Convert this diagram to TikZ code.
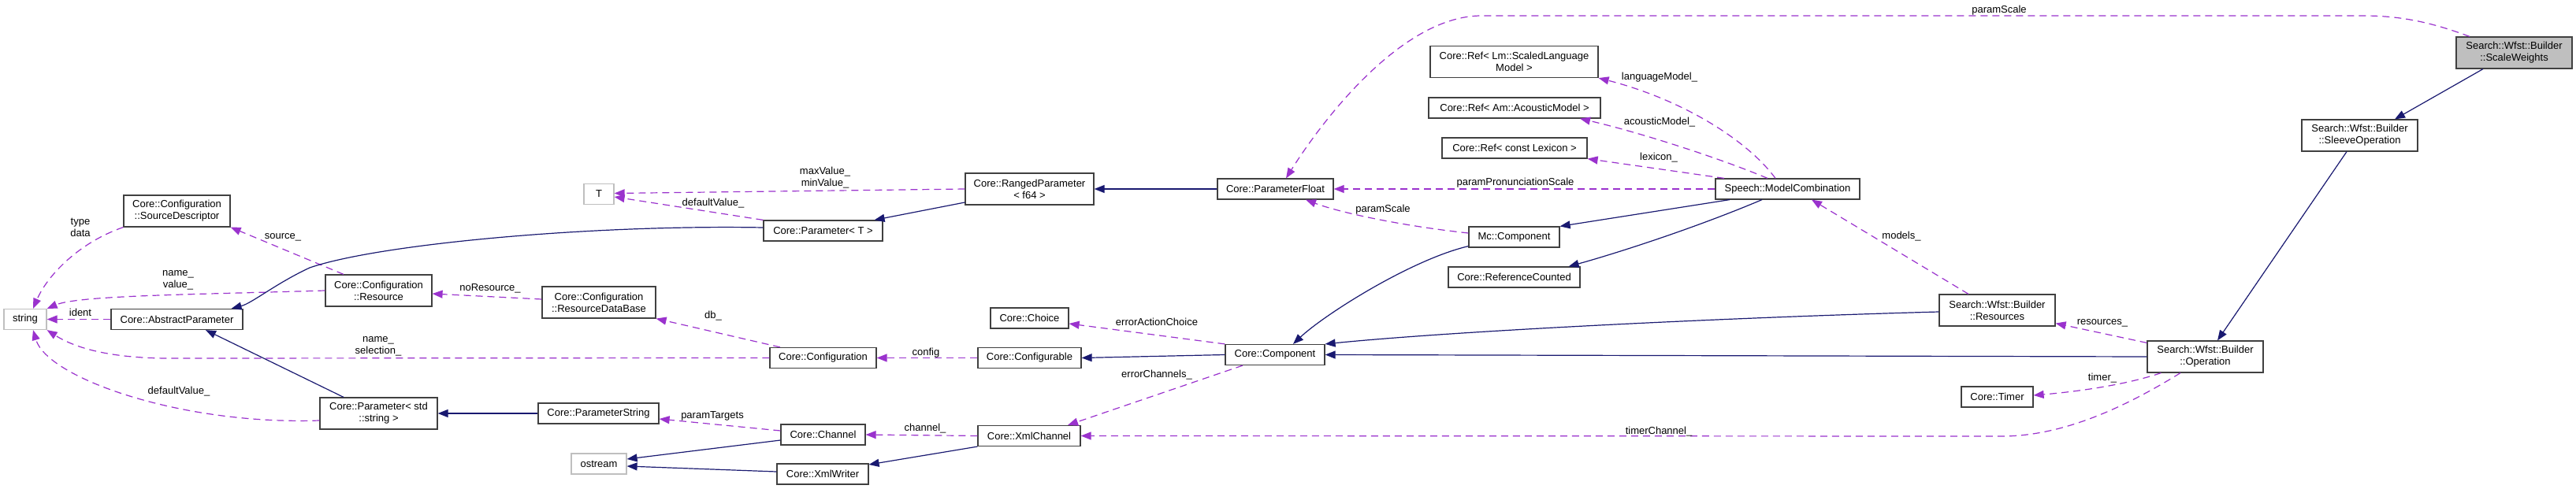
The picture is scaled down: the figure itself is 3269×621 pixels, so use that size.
\documentclass[tikz,border=0pt]{standalone}
\usepackage{fontspec}
\newfontfamily\doxfont{Liberation Sans}
\usetikzlibrary{arrows.meta}
\definecolor{inhblue}{HTML}{191970}
\definecolor{usepurple}{HTML}{9A32CD}
\definecolor{boxgray}{HTML}{BFBFBF}

\begin{document}
\begin{tikzpicture}[x=1pt,y=-1pt,
	cls/.style={draw=black!75,fill=white,line width=1.2pt,font=\doxfont\fontsize{13}{15}\selectfont,
		align=center,inner xsep=1pt,inner ysep=1pt,minimum height=26pt},
	clstwo/.style={cls,minimum height=40pt},
	ext/.style={cls,draw=boxgray},
	lab/.style={font=\doxfont\fontsize{13}{15}\selectfont,inner sep=0pt,text height=9.3pt,text depth=0pt},
	labtwo/.style={font=\doxfont\fontsize{13}{15}\selectfont,inner sep=0pt,align=center},
	inh/.style={draw=inhblue,line width=1.2pt,-{Triangle[length=13pt,width=10pt]}},
	use/.style={draw=usepurple,line width=1.2pt,dash pattern=on 9pt off 6pt,-{Triangle[length=13pt,width=10pt]}}]
		\useasboundingbox (0,0) rectangle (3269,621);
		
		\node[ext, minimum width=54pt] (string) at (32,405.5) {string};
		\node[ext, minimum width=38pt] (tparam) at (760,246.5) {T};
		\node[ext, minimum width=70pt] (ostream) at (760,589) {ostream};
		\node[clstwo, minimum width=135pt] (srcdesc) at (224.5,268) {Core::Configuration\\::SourceDescriptor};
		\node[cls, minimum width=167pt] (absparam) at (224.5,405.5) {Core::AbstractParameter};
		\node[clstwo, minimum width=135pt] (resource) at (480.5,369) {Core::Configuration\\::Resource};
		\node[clstwo, minimum width=149pt] (paramstd) at (480.5,525) {Core::Parameter< std\\::string >};
		\node[cls, minimum width=151pt] (paramt) at (1044.5,293) {Core::Parameter< T >};
		\node[clstwo, minimum width=144pt] (resdb) at (760,384) {Core::Configuration\\::ResourceDataBase};
		\node[cls, minimum width=135pt] (config) at (1044.5,454.5) {Core::Configuration};
		\node[cls, minimum width=153pt] (paramstr) at (759.5,525) {Core::ParameterString};
		\node[cls, minimum width=107pt] (channel) at (1044.5,552) {Core::Channel};
		\node[cls, minimum width=116pt] (xmlwriter) at (1044,602) {Core::XmlWriter};
		\node[clstwo, minimum width=163pt] (ranged) at (1306.5,240) {Core::RangedParameter\\< f64 >};
		\node[cls, minimum width=99pt] (choice) at (1306.5,404) {Core::Choice};
		\node[cls, minimum width=131pt] (configurable) at (1306.5,454.5) {Core::Configurable};
		\node[cls, minimum width=130pt] (xmlchannel) at (1306,553.5) {Core::XmlChannel};
		\node[cls, minimum width=147pt] (pfloat) at (1618.5,240) {Core::ParameterFloat};
		\node[cls, minimum width=126pt] (component) at (1618,450.5) {Core::Component};
		\node[clstwo, minimum width=213pt] (reflm) at (1921.5,78.5) {Core::Ref< Lm::ScaledLanguage\\Model >};
		\node[cls, minimum width=218pt] (refam) at (1922,137) {Core::Ref< Am::AcousticModel >};
		\node[cls, minimum width=184pt] (reflex) at (1922,188) {Core::Ref< const Lexicon >};
		\node[cls, minimum width=115pt] (mccomp) at (1921.5,301) {Mc::Component};
		\node[cls, minimum width=167pt] (refcount) at (1921.5,352) {Core::ReferenceCounted};
		\node[cls, minimum width=183pt] (modelcomb) at (2268.5,240) {Speech::ModelCombination};
		\node[clstwo, minimum width=147pt] (resources) at (2534.5,394) {Search::Wfst::Builder\\::Resources};
		\node[cls, minimum width=91pt] (timer) at (2534.5,504) {Core::Timer};
		\node[clstwo, minimum width=147pt] (operation) at (2798.5,453) {Search::Wfst::Builder\\::Operation};
		\node[clstwo, minimum width=147pt] (sleeve) at (2994.5,172) {Search::Wfst::Builder\\::SleeveOperation};
		\node[clstwo, minimum width=147pt, fill=boxgray] (scalew) at (3190.5,67) {Search::Wfst::Builder\\::ScaleWeights};
		
		\draw[use] (srcdesc.south west) .. controls (100,308) and (60,350) .. ([xshift=10pt]string.north);
		\draw[use] ([xshift=-44.5pt]resource.north) -- (srcdesc.south east);
		\draw[use] (resource.west) .. controls (250,374) and (100,375) .. (string.north east);
		\draw[use] (absparam.west) -- (string.east);
		\draw[use] (config.west) -- (215,455) .. controls (150,455) and (100,445) .. (string.south east);
		\draw[use] ([yshift=-9pt]paramstd.west) .. controls (230,540) and (60,480) .. ([xshift=10pt]string.south);
		\draw[inh] ([xshift=-44.5pt]paramstd.north) -- ([xshift=36.5pt]absparam.south);
		\draw[inh] ([yshift=4pt]paramt.west) .. controls (750,285) and (480,310) .. (393,340)
		.. controls (350,360) and (320,385) .. ([xshift=-15pt]absparam.north east);
		\draw[inh] (paramstr.west) -- (paramstd.east);
		\draw[use] ([yshift=4pt]resdb.west) -- ([yshift=-4pt]resource.east);
		\draw[use] ([xshift=-54.5pt]config.north) -- (resdb.south east);
		\draw[use] (paramt.north west) -- ([yshift=-3.5pt]tparam.east);
		\draw[use] (ranged.west) -- ([yshift=1pt]tparam.east);
		\draw[inh] ([yshift=-17pt]ranged.west) -- ([xshift=-11pt]paramt.north east);
		\draw[inh] (pfloat.west) -- (ranged.east);
		\draw[use] (configurable.west) -- (config.east);
		\draw[inh] (component.west) -- (configurable.east);
		\draw[use] (component.north west) -- ([yshift=-7pt]choice.east);
		\draw[use] ([xshift=-41pt]component.south) -- ([xshift=49pt]xmlchannel.north);
		\draw[use] (xmlchannel.west) -- (channel.east);
		\draw[inh] (xmlchannel.south west) -- ([yshift=12pt]xmlwriter.east);
		\draw[use] ([yshift=5pt]channel.west) -- ([yshift=-7pt]paramstr.east);
		\draw[inh] ([yshift=-7pt]channel.west) -- ([yshift=6pt]ostream.east);
		\draw[inh] ([yshift=3pt]xmlwriter.west) -- ([yshift=-3pt]ostream.east);
		\draw[use] ([yshift=5pt]mccomp.west) .. controls (1780,287) and (1700,270) .. ([xshift=38.5pt]pfloat.south);
		\draw[inh] ([yshift=2pt]mccomp.south west) .. controls (1790,330) and (1680,400) .. ([xshift=23pt]component.north);
		\draw[inh] ([xshift=-73.5pt]modelcomb.south) -- (mccomp.north east);
		\draw[inh] ([xshift=-32.5pt]modelcomb.south) .. controls (2150,290) and (2050,322) .. ([xshift=-15pt]refcount.north east);
		\draw[use] (modelcomb.west) -- (pfloat.east);
		\draw[use] ([xshift=-80.5pt]modelcomb.north) -- (reflex.south east);
		\draw[use] ([xshift=-25.5pt]modelcomb.north) .. controls (2180,200) and (2080,168) .. ([xshift=83pt]refam.south);
		\draw[use] ([xshift=-15.5pt]modelcomb.north) .. controls (2215,175) and (2130,125) .. (reflm.south east);
		\draw[use] ([xshift=-36.5pt]resources.north) -- ([xshift=30.5pt]modelcomb.south);
		\draw[inh] ([yshift=-2pt]resources.west) .. controls (2200,403) and (1850,420) .. (component.north east);
		\draw[inh] (operation.west) -- (component.east);
		\draw[use] ([yshift=-3pt]operation.north west) -- ([yshift=4pt]resources.south east);
		\draw[use] ([xshift=18pt]operation.south west) .. controls (2700,488) and (2640,497) .. ([yshift=2pt]timer.east);
		\draw[use] ([xshift=-31.5pt]operation.south) .. controls (2700,515) and (2620,554) .. (2540,554) -- (xmlchannel.east);
		\draw[inh] ([xshift=-16.5pt]sleeve.south) -- ([xshift=15.5pt]operation.north);
		\draw[inh] ([xshift=-39.5pt]scalew.south) -- ([xshift=44.5pt]sleeve.north);
		\draw[use] ([xshift=-56.5pt]scalew.north) .. controls (3090,30) and (3050,20) .. (3000,20) -- (1880,20)
		.. controls (1780,20) and (1680,150) .. ([xshift=13.5pt]pfloat.north);
		
		\node[labtwo] (lbltype) at (102,288.5) {type\\data};
		\node[lab] (lblsource) at (359,299) {source\_};
		\node[labtwo] (lblnameval) at (226,356) {name\_\\value\_};
		\node[lab] (lblident) at (102,397) {ident};
		\node[labtwo] (lblnamesel) at (480,440) {name\_\\selection\_};
		\node[lab] (lbldefstr) at (227,496) {defaultValue\_};
		\node[labtwo] (lblminmax) at (1047,225.5) {maxValue\_\\minValue\_};
		\node[lab] (lbldeft) at (905,257) {defaultValue\_};
		\node[lab] (lblnores) at (622,365) {noResource\_};
		\node[lab] (lbldb) at (905,400) {db\_};
		\node[lab] (lbltargets) at (904,527) {paramTargets};
		\node[lab] (lblconfig) at (1175,447) {config};
		\node[lab] (lblerrchoice) at (1468,409) {errorActionChoice};
		\node[lab] (lblerrchan) at (1468,475) {errorChannels\_};
		\node[lab] (lblchannel) at (1174,543) {channel\_};
		\node[lab] (lblpron) at (1923,231) {paramPronunciationScale};
		\node[lab] (lblscalemc) at (1755,265) {paramScale};
		\node[lab] (lblscale) at (2537,12) {paramScale};
		\node[lab] (lbllm) at (2106,97) {languageModel\_};
		\node[lab] (lblam) at (2106,154) {acousticModel\_};
		\node[lab] (lbllex) at (2105,199) {lexicon\_};
		\node[lab] (lblmodels) at (2413,299) {models\_};
		\node[lab] (lblres) at (2668,408) {resources\_};
		\node[lab] (lbltimer) at (2668,479) {timer\_};
		\node[lab] (lbltimerch) at (2105,547) {timerChannel\_};
	\end{tikzpicture}
\end{document}
